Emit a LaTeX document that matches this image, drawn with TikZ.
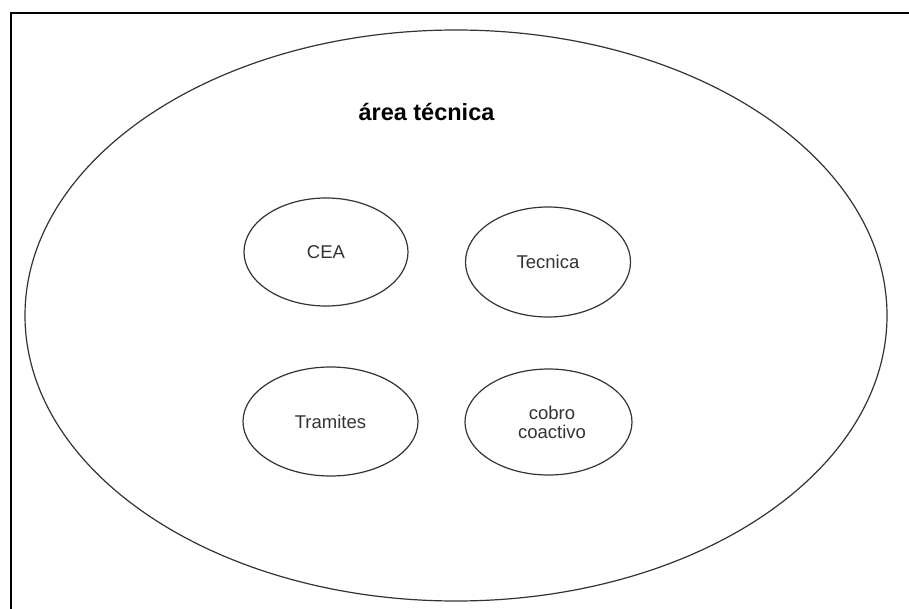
\documentclass[tikz,border=0pt]{standalone}
\usepackage{fontspec}
\setmainfont{Liberation Sans}
\usetikzlibrary{shapes.geometric}
\begin{document}
\begin{tikzpicture}[x=1pt,y=-1pt,
  blob/.style={draw=black!80,line width=1.2pt,ellipse,inner sep=0pt},
  lbl/.style={text=black!80,font=\fontsize{18.5}{19}\selectfont,align=center}]
\useasboundingbox (0,0) rectangle (909,609);
\fill[white] (0,0) rectangle (909,609);
\coordinate (c0) at (11,609);
\coordinate (c1) at (11,13);
\coordinate (c2) at (909,13);
\draw[line width=2pt,line cap=butt] (c0) -- (c1) -- (c2);
\node[blob,minimum width=862,minimum height=571] (area) at (456,315.5) {};
\node[font=\bfseries\fontsize{23.5}{24}\selectfont] (title) at (426.5,112) {área técnica};
\node[blob,minimum width=164,minimum height=108] (cea) at (326,252) {};
\node[lbl] (ceat) at (cea.center) {CEA};
\node[blob,minimum width=165,minimum height=110] (tec) at (548,262) {};
\node[lbl] (tect) at (tec.center) {Tecnica};
\node[blob,minimum width=175,minimum height=109] (tra) at (330.5,421.5) {};
\node[lbl] (trat) at (tra.center) {Tramites};
\node[blob,minimum width=167,minimum height=106] (cob) at (548.5,422) {};
\node[lbl] (cobt) at (552,422) {cobro\\coactivo};
\end{tikzpicture}
\end{document}
